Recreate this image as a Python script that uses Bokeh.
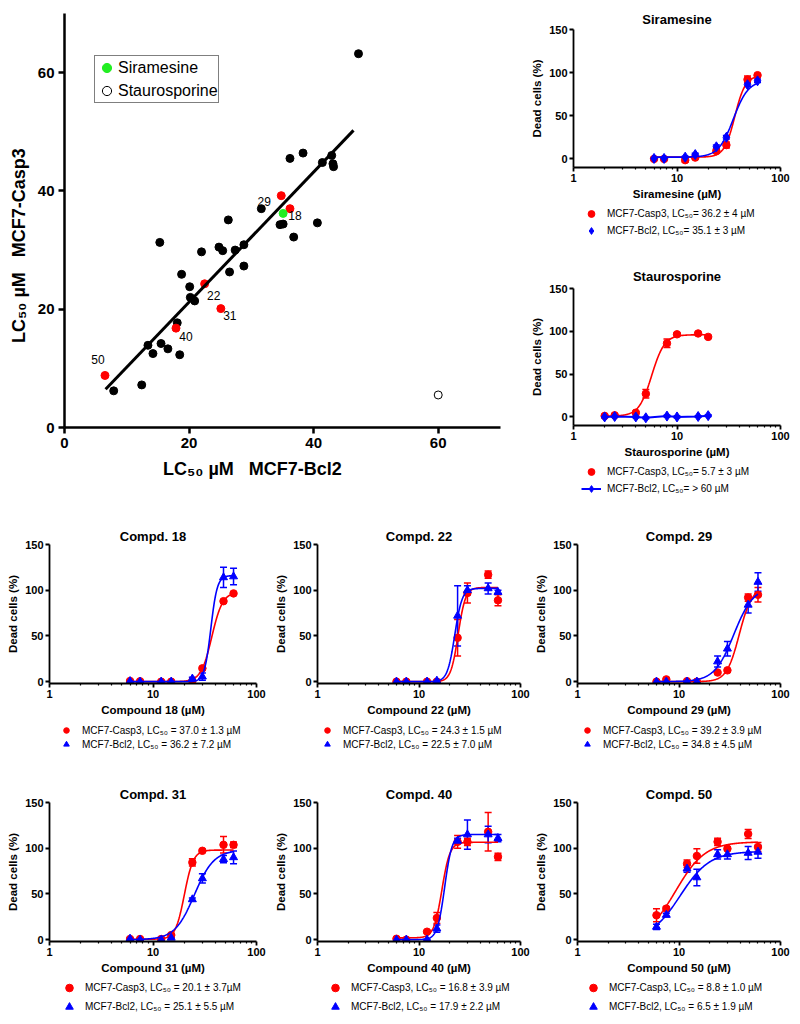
import numpy as np
from bokeh.plotting import figure
from bokeh.models import (ColumnDataSource, Whisker, TeeHead, FixedTicker, Legend, LegendItem,
                          LabelSet, Range1d, PrintfTickFormatter)
from bokeh.core.properties import value
from bokeh.layouts import row, column
from bokeh.embed import file_html
from bokeh.resources import INLINE

FONT = "Liberation Sans"
RED = "#FF0000"
BLUE = "#0000FF"
GREEN = "#22EE22"

# ---------------- correlation scatter (LC50, uM) ----------------
OTHER_BCL2 = [47.2, 38.3, 36.2, 41.4, 42.9, 43.1, 43.2, 31.6, 26.3, 34.6, 35.1, 40.6, 36.8,
              15.3, 22.0, 24.8, 25.4, 27.4, 28.8, 28.8, 26.5, 18.8, 20.1, 20.2, 20.9, 18.1,
              13.4, 15.5, 14.2, 16.6, 18.5, 12.4, 7.9]
OTHER_CASP3 = [63.2, 46.4, 45.5, 44.8, 46.0, 44.6, 44.1, 37.0, 35.1, 34.3, 34.4, 34.6, 32.2,
               31.3, 29.7, 30.5, 29.9, 30.0, 30.9, 27.3, 26.3, 25.9, 23.8, 22.0, 21.4, 17.7,
               13.9, 14.2, 12.5, 13.3, 12.3, 7.2, 6.2]
HIT_IDS = ["18", "22", "29", "31", "40", "50"]
HIT_BCL2 = [36.2, 22.5, 34.8, 25.1, 17.9, 6.5]
HIT_CASP3 = [37.0, 24.3, 39.2, 20.1, 16.8, 8.8]
HIT_LABEL_DX = [5, 9, -17, 9, 10, -7]
HIT_LABEL_DY = [-7, -12, -6, -7, -8, 16]
SIRAMESINE_POINT = [35.1, 36.2]
STAURO_POINT = [60.0, 5.5]
FIT_SLOPE = 1.10
FIT_INTERCEPT = -0.8
FIT_X_SPAN = [6.6, 46.4]
MAIN_TICKS = [0, 20, 40, 60]

# ---------------- dose response data ----------------
DOSES = [6, 7.5, 12, 15, 24, 30, 48, 60]
STAURO_DOSES = [2, 2.5, 4, 5, 8, 10, 16, 20]
DOSE_TICKS = [1, 10, 100]
DOSE_MINOR = [2, 3, 4, 5, 6, 7, 8, 9, 20, 30, 40, 50, 60, 70, 80, 90]
DEAD_TICKS = [0, 50, 100, 150]

SIRA_CASP3 = [0.0, 0.0, -1.5, 1.5, 9, 16, 92, 97]
SIRA_CASP3_ERR = [1, 1, 2, 1, 2, 3.5, 4, 1.5]
SIRA_BCL2 = [0.5, 0.5, 2, 5, 14, 25, 86, 90.5]
SIRA_BCL2_ERR = [1, 1, 1, 1.5, 2, 2, 2, 2]
SIRA_FIT = [(2, 96.5, 36.2, 8.5), (2, 91, 35.1, 6)]   # bottom, top, EC50, Hill
SIRA_LEGEND = ["MCF7-Casp3, LC\u2085\u2080= 36.2 \u00b1 4 \u00b5M", "MCF7-Bcl2, LC\u2085\u2080= 35.1 \u00b1 3 \u00b5M"]

STAU_CASP3 = [1.2, 1.9, 5, 27, 86, 96.5, 97.5, 93.5]
STAU_CASP3_ERR = [0.5, 0.5, 1, 5, 5, 1.5, 1, 1.5]
STAU_BCL2 = [0, 0.5, 0, -1, 1, 0, 0.5, 1.5]
STAU_BCL2_ERR = [1, 1, 1, 1, 1, 1, 1, 1]
STAU_FIT = [(1, 96, 5.7, 7), None]
STAU_LEGEND = ["MCF7-Casp3, LC\u2085\u2080= 5.7 \u00b1 3 \u00b5M", "MCF7-Bcl2, LC\u2085\u2080= > 60 \u00b5M"]

C18_CASP3 = [0.7, 0.4, 0, 0, 0.7, 14.6, 88, 96.5]
C18_CASP3_ERR = [0.5, 0.5, 0.5, 0.5, 0.5, 1.5, 1.5, 1.5]
C18_BCL2 = [0.5, 0, 0, 0, 3.3, 5.5, 114, 115]
C18_BCL2_ERR = [0.5, 0.5, 0.5, 0.5, 1.5, 4, 11, 9]
C18_FIT = [(0, 98, 37.0, 8.3), (0, 116, 36.2, 14)]
C18_LEGEND = ["MCF7-Casp3, LC\u2085\u2080 = 37.0 \u00b1 1.3 \u00b5M", "MCF7-Bcl2, LC\u2085\u2080 = 36.2 \u00b1 7.2 \u00b5M"]

C22_CASP3 = [0, 0, 0, 0, 48, 97, 117, 89]
C22_CASP3_ERR = [0.5, 0.5, 0.5, 0.5, 20, 11, 4, 6]
C22_BCL2 = [0, 0, 0, 1, 72, 100, 102, 98]
C22_BCL2_ERR = [0.5, 0.5, 0.5, 0.5, 33, 5, 6, 2]
C22_FIT = [(0, 103, 24.3, 12), (0, 102, 22.5, 12)]
C22_LEGEND = ["MCF7-Casp3, LC\u2085\u2080 = 24.3 \u00b1 1.5 \u00b5M", "MCF7-Bcl2, LC\u2085\u2080 = 22.5 \u00b1 7.0 \u00b5M"]

C29_CASP3 = [0, 2.5, 0.5, 0, 10, 12.4, 92, 95]
C29_CASP3_ERR = [0.5, 1, 0.5, 0.5, 1, 1, 4, 8]
C29_BCL2 = [0, 0, 0, 0, 22, 36, 84, 109]
C29_BCL2_ERR = [0.5, 0.5, 0.5, 0.5, 6, 8, 9, 10]
C29_FIT = [(0, 103, 39.2, 7), (0, 104, 34.8, 4.5)]
C29_LEGEND = ["MCF7-Casp3, LC\u2085\u2080 = 39.2 \u00b1 3.9 \u00b5M", "MCF7-Bcl2, LC\u2085\u2080 = 34.8 \u00b1 4.5 \u00b5M"]

C31_CASP3 = [0.7, 0.7, 0.7, 5, 84.5, 97.2, 103.7, 103.7]
C31_CASP3_ERR = [0.5, 0.5, 0.5, 1, 4, 1.5, 9, 3]
C31_BCL2 = [1, 0, 0, 2, 44, 67, 88, 90]
C31_BCL2_ERR = [0.5, 0.5, 0.5, 0.5, 1.5, 5, 4, 7]
C31_FIT = [(0.5, 98, 20.1, 10), (0, 98, 25.1, 4.6)]
C31_LEGEND = ["MCF7-Casp3, LC\u2085\u2080 = 20.1 \u00b1 3.7\u00b5M", "MCF7-Bcl2, LC\u2085\u2080 = 25.1 \u00b1 5.5 \u00b5M"]

C40_CASP3 = [1, 0, 8.7, 23.7, 107, 107, 118, 90.6]
C40_CASP3_ERR = [0.5, 0.5, 1, 6, 7, 4, 21, 4]
C40_BCL2 = [0, 0, 0, 12, 108, 115, 115, 111]
C40_BCL2_ERR = [0.5, 0.5, 0.5, 4, 3, 16, 9, 4]
C40_FIT = [(2, 106.5, 16.8, 11), (0, 115, 17.9, 12)]
C40_LEGEND = ["MCF7-Casp3, LC\u2085\u2080 = 16.8 \u00b1 3.9 \u00b5M", "MCF7-Bcl2, LC\u2085\u2080 = 17.9 \u00b1 2.2 \u00b5M"]

C50_CASP3 = [26.7, 34, 83, 91.5, 107, 99.5, 115.6, 101.3]
C50_CASP3_ERR = [7, 2, 4, 8, 4, 2, 5, 5]
C50_BCL2 = [14, 27, 77.6, 68, 93.3, 93.3, 94.8, 96]
C50_BCL2_ERR = [3, 2, 4, 9, 5, 5, 7, 7]
C50_FIT = [(0, 107, 9.3, 3), (0, 96.5, 10.3, 3)]
C50_LEGEND = ["MCF7-Casp3, LC\u2085\u2080 = 8.8 \u00b1 1.0 \u00b5M", "MCF7-Bcl2, LC\u2085\u2080 = 6.5 \u00b1 1.9 \u00b5M"]


def hill(x, params):
    bottom, top, ec50, h = params
    return bottom + (top - bottom) / (1.0 + (ec50 / x) ** h)


def style_axes(p, tick_font, label_font, line_w, tick_out, label_standoff, axis_standoff):
    p.grid.visible = False
    p.outline_line_color = None
    for ax in list(p.xaxis) + list(p.yaxis):
        ax.axis_line_width = line_w
        ax.axis_line_color = "black"
        ax.major_tick_line_width = line_w
        ax.major_tick_line_color = "black"
        ax.major_tick_in = 0
        ax.major_tick_out = tick_out
        ax.minor_tick_in = 0
        ax.minor_tick_out = 0
        ax.major_label_text_font = FONT
        ax.major_label_text_font_style = "bold"
        ax.major_label_text_font_size = tick_font
        ax.major_label_text_color = "black"
        ax.major_label_standoff = label_standoff
        ax.axis_label_text_font = FONT
        ax.axis_label_text_font_style = "bold"
        ax.axis_label_text_font_size = label_font
        ax.axis_label_text_color = "black"
        ax.axis_label_standoff = axis_standoff


def dose_panel(name, xlabel, doses, casp, casp_err, bcl, bcl_err, fits, legend_text, bcl_marker,
               width, left, right, top, frame_h, ystart, title_standoff,
               leg_h, leg_x, leg_y, row_gap, bcl_size):
    plot_h = top + frame_h + 36
    p = figure(width=width, height=plot_h, x_axis_type="log", x_range=Range1d(1, 100),
               y_range=Range1d(ystart, 150), output_backend="svg", toolbar_location=None,
               min_border_left=left, min_border_right=right, min_border_top=top,
               min_border_bottom=36)
    p.title.text = name
    p.title.text_font = FONT
    p.title.text_font_size = "13px"
    p.title.text_font_style = "bold"
    p.title.text_color = "black"
    p.title.align = "center"
    p.title.standoff = title_standoff
    style_axes(p, "11px", "11.5px", 1.8, 4, 2, 3)
    p.xaxis.ticker = FixedTicker(ticks=DOSE_TICKS, minor_ticks=DOSE_MINOR)
    p.xaxis.formatter = PrintfTickFormatter(format="%d")
    p.xaxis.minor_tick_out = 2
    p.xaxis.minor_tick_line_width = 1.2
    p.xaxis.minor_tick_line_color = "black"
    p.yaxis.ticker = FixedTicker(ticks=DEAD_TICKS, minor_ticks=[])
    p.xaxis.axis_label = xlabel
    p.yaxis.axis_label = "Dead cells (%)"

    # legend strip under the plot (its frame lines up with the plot frame above;
    # the key renderers use the series data, which falls outside this strip's 0..1 ranges)
    lf = figure(width=width, height=leg_h, x_range=Range1d(0, 1), y_range=Range1d(0, 1),
                output_backend="svg", toolbar_location=None,
                min_border_left=left, min_border_right=right, min_border_top=0,
                min_border_bottom=0, x_axis_location=None, y_axis_location=None)
    lf.grid.visible = False
    lf.outline_line_color = None

    items = []
    specs = [(casp, casp_err, RED, "circle", 7.5, fits[0]), (bcl, bcl_err, BLUE, bcl_marker, bcl_size, fits[1])]
    for vals, errs, color, marker, size, fit in specs:
        src = ColumnDataSource(dict(x=doses, y=vals,
                                    lo=[v - e for v, e in zip(vals, errs)],
                                    hi=[v + e for v, e in zip(vals, errs)]))
        key = []
        if fit is not None:
            xs = np.logspace(np.log10(doses[0]), np.log10(doses[-1]), 200)
            p.line(xs, hill(xs, fit), line_color=color, line_width=1.6)
        else:
            p.line("x", "y", source=src, line_color=color, line_width=2)
            key.append(lf.line("x", "y", source=src, line_color=color, line_width=2))
        p.add_layout(Whisker(source=src, base="x", lower="lo", upper="hi", line_color=color,
                             line_width=1.5,
                             lower_head=TeeHead(size=7, line_color=color, line_width=1.5),
                             upper_head=TeeHead(size=7, line_color=color, line_width=1.5)))
        p.scatter("x", "y", source=src, marker=marker, size=size, fill_color=color,
                  line_color=color)
        key.append(lf.scatter("x", "y", source=src, marker=marker, size=size,
                              fill_color=color, line_color=color))
        items.append(key)

    leg = Legend(items=[LegendItem(label=legend_text[0], renderers=items[0]),
                        LegendItem(label=legend_text[1], renderers=items[1])],
                 location=(leg_x, leg_y), orientation="vertical", glyph_width=20,
                 glyph_height=row_gap, label_height=row_gap, spacing=0, padding=0, margin=0,
                 label_standoff=6, border_line_color=None, background_fill_alpha=0,
                 label_text_font=FONT, label_text_font_size="10px", label_text_color="black")
    lf.add_layout(leg)
    return column(p, lf)


# ---------------- main scatter ----------------
main = figure(width=528, height=500, x_range=Range1d(0, 70), y_range=Range1d(0, 70),
              output_backend="svg", toolbar_location=None,
              min_border_left=64, min_border_right=28, min_border_top=13, min_border_bottom=73)
style_axes(main, "15px", "18px", 2.5, 6, 4, 6)
main.xaxis.axis_label_standoff = 8
main.xaxis.ticker = FixedTicker(ticks=MAIN_TICKS, minor_ticks=[])
main.yaxis.ticker = FixedTicker(ticks=MAIN_TICKS, minor_ticks=[])
# trailing no-break spaces move the centred labels to where the reference has them
main.xaxis.axis_label = "LC\u2085\u2080 \u00b5M \u00a0 MCF7-Bcl2" + "\u00a0" * 12
main.yaxis.axis_label = "LC\u2085\u2080 \u00b5M \u00a0 MCF7-Casp3" + "\u00a0" * 10

main.scatter(OTHER_BCL2, OTHER_CASP3, size=8, color="black")
main.scatter(HIT_BCL2, HIT_CASP3, size=8, color=RED)
g = main.scatter([SIRAMESINE_POINT[0]], [SIRAMESINE_POINT[1]], size=8, color=GREEN)
s = main.scatter([STAURO_POINT[0]], [STAURO_POINT[1]], size=8, fill_color="white",
                 line_color="black", line_width=1)
main.line(FIT_X_SPAN, [FIT_SLOPE * x + FIT_INTERCEPT for x in FIT_X_SPAN],
          line_color="black", line_width=3)
lab_src = ColumnDataSource(dict(x=HIT_BCL2, y=HIT_CASP3, t=HIT_IDS, dx=HIT_LABEL_DX, dy=HIT_LABEL_DY))
main.add_layout(LabelSet(x="x", y="y", text="t", source=lab_src, x_offset="dx", y_offset="dy",
                         text_font=value(FONT), text_font_size="12px", text_align="center",
                         text_baseline="middle", text_color="black"))
main_leg = Legend(items=[LegendItem(label="Siramesine", renderers=[g]),
                         LegendItem(label="Staurosporine", renderers=[s])],
                  location=(30, 324), glyph_width=23, glyph_height=23, label_height=23,
                  spacing=0, padding=0, margin=0, label_standoff=0,
                  border_line_color="black", border_line_width=1,
                  background_fill_color="white", label_text_font=FONT, label_text_font_size="16px",
                  label_text_color="black")
main.add_layout(main_leg)

# ---------------- dose panels ----------------
# args: width, left, right, top, frame_h, ystart, title_standoff, leg_h, leg_x, leg_y, row_gap, size
sira = dose_panel("Siramesine", "Siramesine (\u00b5M)", DOSES, SIRA_CASP3, SIRA_CASP3_ERR,
                  SIRA_BCL2, SIRA_BCL2_ERR, SIRA_FIT, SIRA_LEGEND, "diamond",
                  272, 45, 20, 29, 138, -10, 5, 53, 8, 17, 17, 10)
stau = dose_panel("Staurosporine", "Staurosporine (\u00b5M)", STAURO_DOSES, STAU_CASP3, STAU_CASP3_ERR,
                  STAU_BCL2, STAU_BCL2_ERR, STAU_FIT, STAU_LEGEND, "diamond",
                  272, 45, 20, 32, 137, -10, 9, 39, 8, 3, 17, 10)

c18 = dose_panel("Compd. 18", "Compound 18 (\u00b5M)", DOSES, C18_CASP3, C18_CASP3_ERR,
                 C18_BCL2, C18_BCL2_ERR, C18_FIT, C18_LEGEND, "triangle",
                 272, 49, 16, 44, 139, -2, 1, 47, 7, 15, 14, 8)
c22 = dose_panel("Compd. 22", "Compound 22 (\u00b5M)", DOSES, C22_CASP3, C22_CASP3_ERR,
                 C22_BCL2, C22_BCL2_ERR, C22_FIT, C22_LEGEND, "triangle",
                 260, 41, 12, 44, 139, -2, 1, 47, 0, 15, 14, 8)
c29 = dose_panel("Compd. 29", "Compound 29 (\u00b5M)", DOSES, C29_CASP3, C29_CASP3_ERR,
                 C29_BCL2, C29_BCL2_ERR, C29_FIT, C29_LEGEND, "triangle",
                 268, 41, 20, 44, 139, -2, 1, 47, 0, 15, 14, 8)
c31 = dose_panel("Compd. 31", "Compound 31 (\u00b5M)", DOSES, C31_CASP3, C31_CASP3_ERR,
                 C31_BCL2, C31_BCL2_ERR, C31_FIT, C31_LEGEND, "triangle",
                 272, 49, 16, 36, 139, -2, 1, 47, 10, 8, 19, 8)
c40 = dose_panel("Compd. 40", "Compound 40 (\u00b5M)", DOSES, C40_CASP3, C40_CASP3_ERR,
                 C40_BCL2, C40_BCL2_ERR, C40_FIT, C40_LEGEND, "triangle",
                 260, 41, 12, 36, 139, -2, 1, 47, 8, 8, 19, 8)
c50 = dose_panel("Compd. 50", "Compound 50 (\u00b5M)", DOSES, C50_CASP3, C50_CASP3_ERR,
                 C50_BCL2, C50_BCL2_ERR, C50_FIT, C50_LEGEND, "triangle",
                 268, 41, 20, 36, 139, -2, 1, 47, 6, 8, 19, 8)

layout = column(row(main, column(sira, stau)), row(c18, c22, c29), row(c31, c40, c50))
open("out.html", "w").write(file_html(layout, INLINE, title="LC50 comparison"))
